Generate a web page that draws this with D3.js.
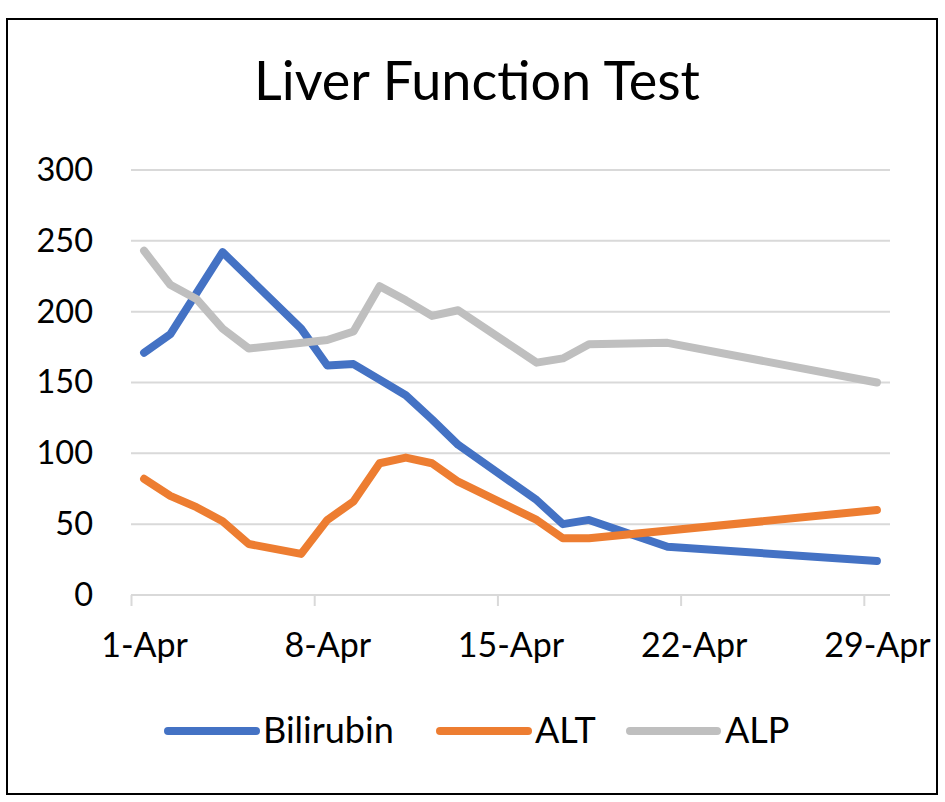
<!DOCTYPE html>
<html>
<head>
<meta charset="utf-8">
<script src="https://cdn.jsdelivr.net/npm/d3@7"></script>
<style>
  html, body { margin: 0; padding: 0; background: #fff; }
  svg { display: block; font-family: Lato, "Open Sans", sans-serif; }
</style>
</head>
<body>
<svg id="chart" width="945" height="802"></svg>
<script>
// ---- data ----
const days = [1, 2, 3, 4, 5, 7, 8, 9, 10, 11, 12, 13, 16, 17, 18, 21, 29]; // April
const bilirubin = [171, 184, null, 242, null, 188, 162, 163, 152, 141, 124, 106, 67, 50, 53, 34, 24];
const alt       = [82, 70, 62, 52, 36, 29, 53, 66, 93, 97, 93, 80, 53, 40, 40, null, 60];
const alp       = [243, 219, 209, 188, 174, null, 180, 186, 218, 208, 197, 201, 164, 167, 177, 178, 150];
const seriesNames = ["Bilirubin", "ALT", "ALP"];
const seriesColors = ["#4472C4", "#ED7D31", "#BFBFBF"];
const xTickDays = [1, 8, 15, 22, 29];
const yTicks = [0, 50, 100, 150, 200, 250, 300];
const title = "Liver Function Test";

// ---- layout ----
const svg = d3.select("#chart");
const plot = { left: 131, right: 890, top: 170, bottom: 595 };

const dayDate = d => new Date(Date.UTC(2020, 3, d));
const midDay = d => new Date(dayDate(d).getTime() + 12 * 3600 * 1000);
const x = d3.scaleUtc()
  .domain([dayDate(1), dayDate(30)])
  .range([plot.left, plot.right]);
const y = d3.scaleLinear().domain([0, 300]).range([plot.bottom, plot.top]);
const halfDay = x(midDay(1)) - x(dayDate(1));

// outer border
svg.append("rect")
  .attr("x", 7).attr("y", 19).attr("width", 930).attr("height", 775)
  .attr("fill", "#fff").attr("stroke", "#000").attr("stroke-width", 2);

// title
svg.append("text")
  .attr("x", 477).attr("y", 100)
  .attr("text-anchor", "middle")
  .attr("font-size", 54)
  .attr("fill", "#000")
  .text(title);

// gridlines
svg.append("g")
  .selectAll("line")
  .data(yTicks.filter(v => v > 0))
  .join("line")
  .attr("x1", plot.left).attr("x2", plot.right)
  .attr("y1", d => y(d)).attr("y2", d => y(d))
  .attr("stroke", "#D9D9D9").attr("stroke-width", 2);

// y axis labels
const yAxis = d3.axisLeft(y).tickValues(yTicks).tickSize(0).tickPadding(38);
const gy = svg.append("g").attr("transform", `translate(${plot.left},0)`).call(yAxis);
gy.select(".domain").remove();
gy.selectAll("text").attr("font-size", 32.5).attr("fill", "#000")
  .attr("font-family", "Lato, 'Open Sans', sans-serif");

// x axis
const xAxis = d3.axisBottom(x)
  .tickValues(xTickDays.map(dayDate))
  .tickFormat(d3.utcFormat("%-d-%b"))
  .tickSize(11).tickPadding(27);
const gx = svg.append("g").attr("transform", `translate(0,${plot.bottom})`).call(xAxis);
gx.select(".domain").attr("stroke", "#D9D9D9").attr("stroke-width", 2)
  .attr("d", `M${plot.left},0H${plot.right}`);
gx.selectAll(".tick line").attr("stroke", "#D9D9D9").attr("stroke-width", 2);
gx.selectAll("text").attr("font-size", 34).attr("fill", "#000")
  .attr("x", halfDay)
  .attr("font-family", "Lato, 'Open Sans', sans-serif");

// lines (points sit in the middle of each day)
const allSeries = [bilirubin, alt, alp];
const line = d3.line()
  .x(d => x(midDay(d.day)))
  .y(d => y(d.v));

allSeries.forEach((vals, i) => {
  const pts = days.map((day, j) => ({ day, v: vals[j] })).filter(p => p.v != null);
  svg.append("path")
    .datum(pts)
    .attr("d", line)
    .attr("fill", "none")
    .attr("stroke", seriesColors[i])
    .attr("stroke-width", 8)
    .attr("stroke-linecap", "round")
    .attr("stroke-linejoin", "round");
});

// legend
const legendItems = [
  { x1: 168, x2: 256, tx: 263 },
  { x1: 440, x2: 528, tx: 535 },
  { x1: 630, x2: 717, tx: 725 }
];
const lg = svg.append("g");
seriesNames.forEach((name, i) => {
  const it = legendItems[i];
  lg.append("line")
    .attr("x1", it.x1).attr("x2", it.x2)
    .attr("y1", 731).attr("y2", 731)
    .attr("stroke", seriesColors[i]).attr("stroke-width", 8)
    .attr("stroke-linecap", "round");
  lg.append("text")
    .attr("x", it.tx).attr("y", 743)
    .attr("font-size", 36).attr("fill", "#000")
    .text(name);
});
</script>
</body>
</html>
